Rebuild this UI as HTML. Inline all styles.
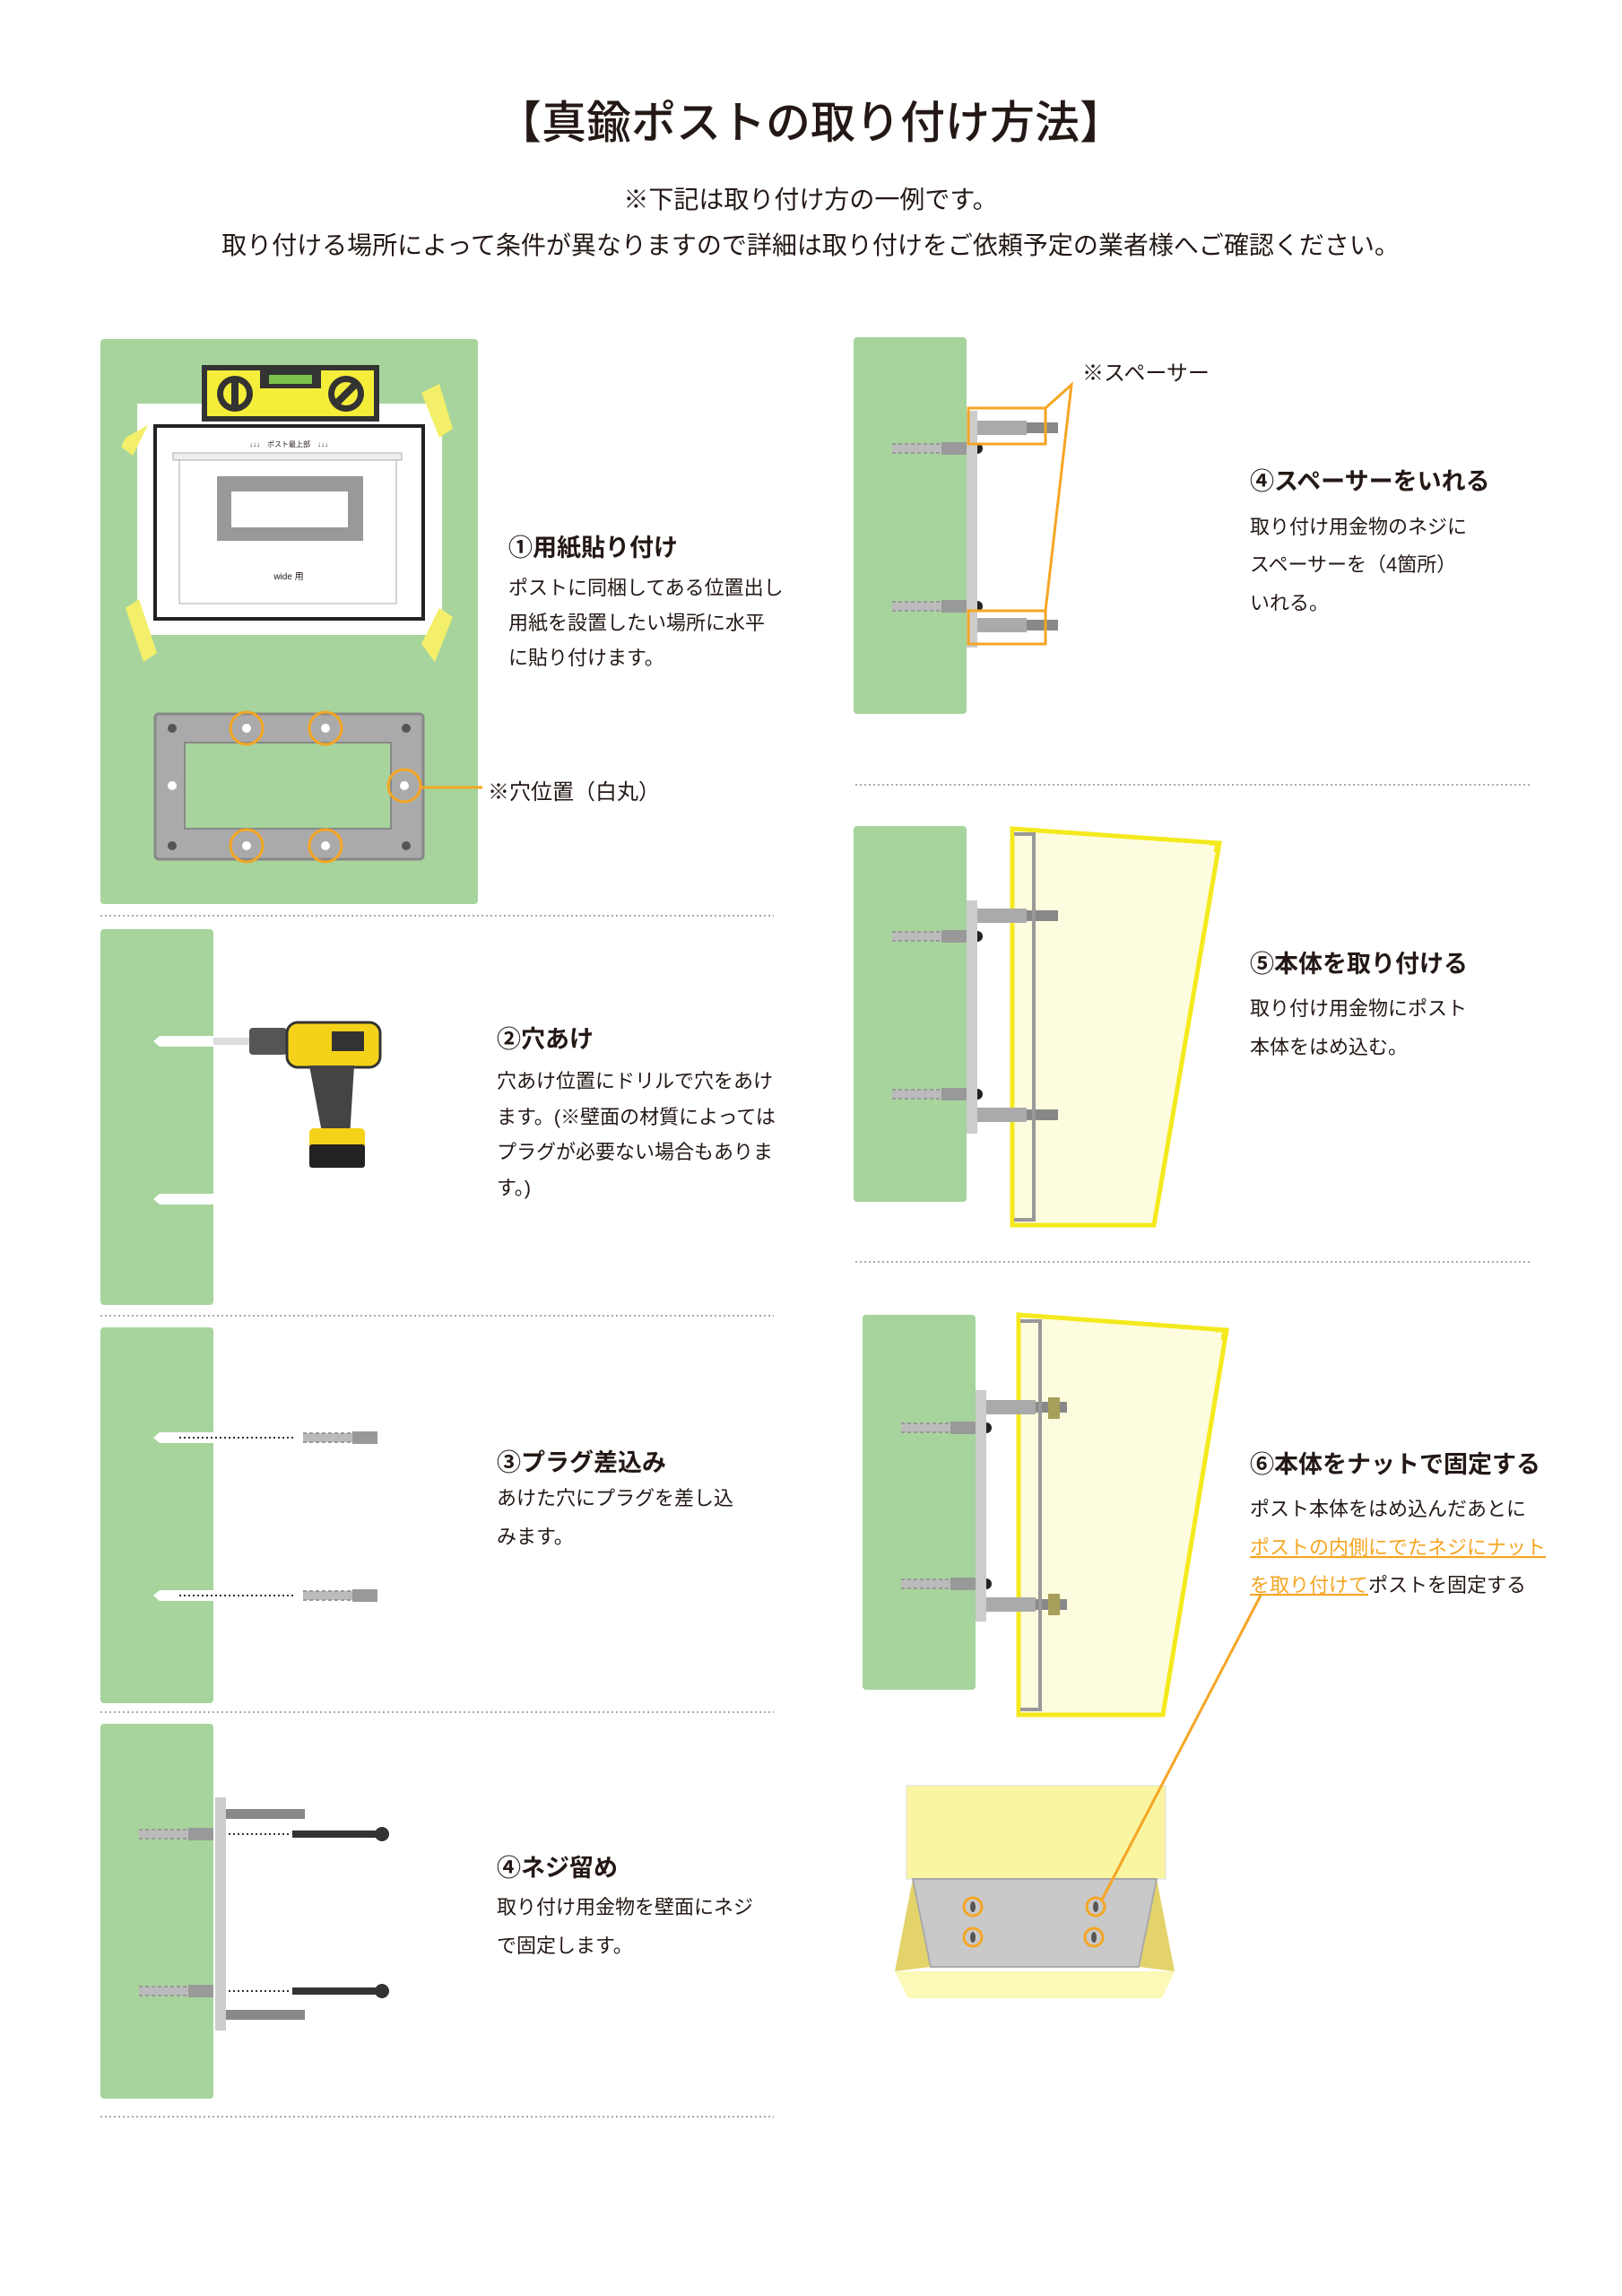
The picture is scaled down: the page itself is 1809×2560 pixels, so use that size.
<!DOCTYPE html>
<html><head><meta charset="utf-8"><style>
html,body{margin:0;padding:0;background:#fff}
svg{display:block}
text{font-family:"Liberation Sans","Noto Sans CJK JP",sans-serif;fill:#231815}
.h{font-size:27px;font-weight:bold}
.b{font-size:22px}
</style></head><body>
<svg width="1809" height="2560" viewBox="0 0 1809 2560" xmlns="http://www.w3.org/2000/svg">
<defs>
<g id="plug"><rect x="0" y="-5" width="60" height="10" fill="#bbb"/><path d="M0,-5 L60,-5 M0,5 L60,5" stroke="#999" stroke-width="2" stroke-dasharray="4 3"/><rect x="55" y="-7" width="28" height="14" fill="#999"/></g>
<g id="rod"><rect x="0" y="-6" width="90" height="12" fill="#888"/><rect x="0" y="-8" width="55" height="16" fill="#aaa"/></g>
</defs>
<rect width="1809" height="2560" fill="#fff"/>
<text x="904" y="154" text-anchor="middle" font-size="50" font-weight="500">【真鍮ポストの取り付け方法】</text>
<text x="904" y="232" text-anchor="middle" font-size="28">※下記は取り付け方の一例です。</text>
<text x="904" y="283" text-anchor="middle" font-size="28">取り付ける場所によって条件が異なりますので詳細は取り付けをご依頼予定の業者様へご確認ください。</text>

<g stroke="#aaa" stroke-width="2" stroke-dasharray="2 3">
<line x1="112" y1="1021" x2="863" y2="1021"/><line x1="112" y1="1467" x2="863" y2="1467"/>
<line x1="112" y1="1909" x2="863" y2="1909"/><line x1="112" y1="2360" x2="863" y2="2360"/>
<line x1="954" y1="875" x2="1707" y2="875"/><line x1="954" y1="1407" x2="1707" y2="1407"/>
</g>

<!-- Step 1 -->
<rect x="112" y="378" width="421" height="630" rx="4" fill="#a6d49c"/>
<rect x="153" y="450" width="340" height="258" fill="#fff"/>
<g fill="#f4ef6a"><polygon points="140,488 165,474 148,508 135,498"/><polygon points="470,438 490,428 505,478 490,488"/><polygon points="140,678 155,668 175,728 160,738"/><polygon points="470,718 490,678 505,688 485,738"/></g>
<rect x="173" y="475" width="299" height="215" fill="#fff" stroke="#222" stroke-width="4"/>
<rect x="193" y="505" width="255" height="8" fill="#eee" stroke="#aaa"/>
<rect x="200" y="513" width="242" height="160" fill="none" stroke="#aaa"/>
<text x="322" y="498" text-anchor="middle" font-size="8">↓↓↓　ポスト最上部　↓↓↓</text>
<rect x="242" y="531" width="163" height="72" fill="#999"/><rect x="258" y="548" width="130" height="40" fill="#fff"/>
<text x="322" y="646" text-anchor="middle" font-size="10">wide 用</text>
<rect x="225" y="407" width="198" height="63" fill="#333"/>
<rect x="231" y="413" width="186" height="51" fill="#f4ee3a"/>
<rect x="290" y="413" width="68" height="20" fill="#333"/><rect x="300" y="418" width="48" height="10" fill="#7cc24a"/>
<circle cx="262" cy="439" r="20" fill="#333"/><circle cx="262" cy="439" r="13" fill="#f4ee3a"/><rect x="258" y="426" width="8" height="26" fill="#333"/>
<circle cx="386" cy="439" r="20" fill="#333"/><circle cx="386" cy="439" r="13" fill="#f4ee3a"/><rect x="382" y="426" width="8" height="26" fill="#333" transform="rotate(45 386 439)"/>
<rect x="173" y="796" width="299" height="162" rx="4" fill="#aaa" stroke="#888" stroke-width="3"/>
<rect x="206" y="828" width="230" height="96" fill="#a6d49c" stroke="#888" stroke-width="2"/>
<g fill="#555"><circle cx="192" cy="812" r="5"/><circle cx="453" cy="812" r="5"/><circle cx="192" cy="943" r="5"/><circle cx="453" cy="943" r="5"/></g>
<circle cx="192" cy="876" r="5" fill="#fff"/>
<g fill="none" stroke="#f5a623" stroke-width="3">
<circle cx="275" cy="812" r="18"/><circle cx="363" cy="812" r="18"/><circle cx="451" cy="876" r="18"/><circle cx="275" cy="943" r="18"/><circle cx="363" cy="943" r="18"/></g>
<g fill="#fff"><circle cx="275" cy="812" r="5"/><circle cx="363" cy="812" r="5"/><circle cx="451" cy="876" r="5"/><circle cx="275" cy="943" r="5"/><circle cx="363" cy="943" r="5"/></g>
<line x1="469" y1="878" x2="538" y2="878" stroke="#f5a623" stroke-width="3"/>
<text x="544" y="891" font-size="24">※穴位置（白丸）</text>
<text class="h" x="567" y="620">①用紙貼り付け</text>
<text class="b" x="567" y="663">ポストに同梱してある位置出し</text>
<text class="b" x="567" y="702">用紙を設置したい場所に水平</text>
<text class="b" x="567" y="741">に貼り付けます。</text>

<!-- Step 2 -->
<rect x="112" y="1036" width="126" height="419" rx="4" fill="#a6d49c"/>
<polygon points="171,1161 178,1155 238,1155 238,1167 178,1167" fill="#fff"/>
<rect x="238" y="1157" width="40" height="8" fill="#ddd"/>
<polygon points="171,1337 178,1331 238,1331 238,1343 178,1343" fill="#fff"/>
<rect x="278" y="1146" width="42" height="30" rx="4" fill="#555"/>
<rect x="320" y="1140" width="104" height="50" rx="12" fill="#f5d21a" stroke="#333" stroke-width="3"/>
<rect x="370" y="1150" width="36" height="22" fill="#333"/>
<polygon points="345,1188 395,1188 390,1268 360,1268" fill="#444"/>
<rect x="345" y="1258" width="62" height="42" rx="5" fill="#f5d21a"/><rect x="345" y="1276" width="62" height="26" rx="3" fill="#222"/>
<text class="h" x="554" y="1168">②穴あけ</text>
<text class="b" x="554" y="1213">穴あけ位置にドリルで穴をあけ</text>
<text class="b" x="554" y="1253">ます。(※壁面の材質によっては</text>
<text class="b" x="554" y="1292">プラグが必要ない場合もありま</text>
<text class="b" x="554" y="1332">す。)</text>

<!-- Step 3 -->
<rect x="112" y="1480" width="126" height="419" rx="4" fill="#a6d49c"/>
<g fill="#fff"><polygon points="171,1603 178,1597 238,1597 238,1609 178,1609"/><polygon points="171,1779 178,1773 238,1773 238,1785 178,1785"/></g>
<g stroke="#333" stroke-width="2" stroke-dasharray="2 3"><line x1="200" y1="1603" x2="330" y2="1603"/><line x1="200" y1="1779" x2="330" y2="1779"/></g>
<use href="#plug" x="338" y="1603"/><use href="#plug" x="338" y="1779"/>
<text class="h" x="554" y="1640">③プラグ差込み</text>
<text class="b" x="554" y="1678">あけた穴にプラグを差し込</text>
<text class="b" x="554" y="1721">みます。</text>

<!-- Step 4 left -->
<rect x="112" y="1922" width="126" height="418" rx="4" fill="#a6d49c"/>
<use href="#plug" x="155" y="2045"/><use href="#plug" x="155" y="2220"/>
<rect x="240" y="2004" width="12" height="260" fill="#ccc"/>
<rect x="252" y="2017" width="88" height="11" fill="#888"/><rect x="252" y="2241" width="88" height="11" fill="#888"/>
<g stroke="#333" stroke-width="2" stroke-dasharray="2 3"><line x1="255" y1="2045" x2="322" y2="2045"/><line x1="255" y1="2220" x2="322" y2="2220"/></g>
<g fill="#333"><rect x="326" y="2041" width="98" height="8"/><circle cx="426" cy="2045" r="8"/><rect x="326" y="2216" width="98" height="8"/><circle cx="426" cy="2220" r="8"/></g>
<text class="h" x="554" y="2092">④ネジ留め</text>
<text class="b" x="554" y="2134">取り付け用金物を壁面にネジ</text>
<text class="b" x="554" y="2177">で固定します。</text>

<!-- Right Step 4 spacer -->
<rect x="952" y="376" width="126" height="420" rx="4" fill="#a6d49c"/>
<use href="#plug" x="995" y="500"/><use href="#plug" x="995" y="676"/>
<circle cx="1090" cy="500" r="6" fill="#222"/><circle cx="1090" cy="676" r="6" fill="#222"/>
<rect x="1078" y="458" width="12" height="264" fill="#ccc"/>
<use href="#rod" x="1090" y="477"/><use href="#rod" x="1090" y="697"/>
<g fill="none" stroke="#f5a623" stroke-width="3"><rect x="1080" y="455" width="86" height="40"/><rect x="1080" y="681" width="86" height="37"/>
<polyline points="1166,455 1195,429 1166,681"/></g>
<text x="1207" y="424" font-size="24">※スペーサー</text>
<text class="h" x="1394" y="546">④スペーサーをいれる</text>
<text class="b" x="1394" y="595">取り付け用金物のネジに</text>
<text class="b" x="1394" y="637">スペーサーを（4箇所）</text>
<text class="b" x="1394" y="680">いれる。</text>

<!-- Right Step 5 -->
<rect x="952" y="921" width="126" height="419" rx="4" fill="#a6d49c"/>
<use href="#plug" x="995" y="1044"/><use href="#plug" x="995" y="1220"/>
<circle cx="1090" cy="1044" r="6" fill="#222"/><circle cx="1090" cy="1220" r="6" fill="#222"/>
<rect x="1078" y="1004" width="12" height="260" fill="#ccc"/>
<polygon points="1129,924 1360,940 1287,1366 1129,1366" fill="#fdfbd8" fill-opacity="0.85" stroke="#f4e91d" stroke-width="5"/>
<use href="#rod" x="1090" y="1021"/><use href="#rod" x="1090" y="1243"/>
<polyline points="1131,930 1153,930 1153,1360 1131,1360" fill="none" stroke="#999" stroke-width="4"/>
<polyline points="1348,940 1358,940 1356,950" fill="none" stroke="#f4e91d" stroke-width="5"/>
<text class="h" x="1394" y="1084">⑤本体を取り付ける</text>
<text class="b" x="1394" y="1132">取り付け用金物にポスト</text>
<text class="b" x="1394" y="1175">本体をはめ込む。</text>

<!-- Right Step 6 -->
<rect x="962" y="1466" width="126" height="418" rx="4" fill="#a6d49c"/>
<use href="#plug" x="1005" y="1592"/><use href="#plug" x="1005" y="1766"/>
<circle cx="1100" cy="1592" r="6" fill="#222"/><circle cx="1100" cy="1766" r="6" fill="#222"/>
<rect x="1088" y="1550" width="12" height="258" fill="#ccc"/>
<polygon points="1136,1466 1368,1483 1297,1912 1136,1912" fill="#fdfbd8" fill-opacity="0.85" stroke="#f4e91d" stroke-width="5"/>
<use href="#rod" x="1100" y="1569"/><use href="#rod" x="1100" y="1789"/>
<rect x="1169" y="1558" width="13" height="24" fill="#a89f5a"/><rect x="1169" y="1777" width="13" height="24" fill="#a89f5a"/>
<polyline points="1138,1473 1160,1473 1160,1906 1138,1906" fill="none" stroke="#999" stroke-width="4"/>
<polyline points="1356,1483 1366,1483 1364,1494" fill="none" stroke="#f4e91d" stroke-width="5"/>
<text class="h" x="1394" y="1642">⑥本体をナットで固定する</text>
<text class="b" x="1394" y="1690">ポスト本体をはめ込んだあとに</text>
<text class="b" x="1394" y="1733" style="fill:#f5a623;text-decoration:underline">ポストの内側にでたネジにナット</text>
<text class="b" x="1394" y="1775"><tspan style="fill:#f5a623;text-decoration:underline">を取り付けて</tspan>ポストを固定する</text>

<!-- bottom box -->
<rect x="1011" y="1991" width="289" height="104" fill="#faf5a0" stroke="#ddd"/>
<polygon points="998,2198 1310,2198 1296,2228 1013,2228" fill="#fbf8b8"/>
<polygon points="1018,2095 998,2198 1038,2193" fill="#e3d36a"/>
<polygon points="1290,2095 1310,2198 1270,2193" fill="#e3d36a"/>
<polygon points="1018,2095 1290,2095 1270,2193 1038,2193" fill="#c9c9c9" stroke="#aaa" stroke-width="2"/>
<g fill="none" stroke="#f5a623" stroke-width="3">
<circle cx="1085" cy="2126" r="10"/><circle cx="1085" cy="2160" r="10"/><circle cx="1222" cy="2126" r="10"/><circle cx="1220" cy="2160" r="10"/></g>
<g fill="#555"><ellipse cx="1085" cy="2126" rx="3" ry="6"/><ellipse cx="1085" cy="2160" rx="3" ry="6"/><ellipse cx="1222" cy="2126" rx="3" ry="6"/><ellipse cx="1220" cy="2160" rx="3" ry="6"/></g>
<line x1="1407" y1="1777" x2="1228" y2="2120" stroke="#f5a623" stroke-width="3"/>
</svg>
</body></html>
